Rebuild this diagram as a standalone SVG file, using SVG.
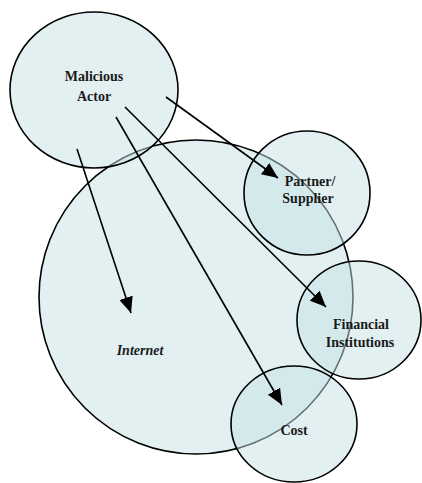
<svg xmlns="http://www.w3.org/2000/svg" width="422" height="483" viewBox="0 0 422 483">
<style>
.n{fill:rgb(197,225,229);fill-opacity:0.5;stroke:#000;stroke-width:1.6}
.t{font-family:"Liberation Serif",serif;font-weight:bold;font-size:14px;fill:#1a1a1a;text-anchor:middle}
.c{stroke:#000;stroke-width:1.6;fill:none;marker-end:url(#ah)}
</style>
<defs>
<marker id="ah" markerWidth="16" markerHeight="14" refX="16" refY="7" orient="auto" markerUnits="userSpaceOnUse">
<path d="M0,0 L16,7 L0,14 Z" fill="#000"/>
</marker>
</defs>
<g id="internet"><circle class="n" cx="196" cy="297" r="157"/><text class="t" x="140" y="355" font-style="italic">Internet</text></g>
<g id="malicious-actor"><ellipse class="n" cx="94" cy="90" rx="84" ry="78"/><text class="t" x="94" y="81">Malicious</text><text class="t" x="94" y="101">Actor</text></g>
<g id="partner"><ellipse class="n" cx="307" cy="193" rx="63" ry="62"/><text class="t" x="310" y="186">Partner/</text><text class="t" x="308" y="203">Supplier</text></g>
<g id="financial"><ellipse class="n" cx="359" cy="320" rx="62" ry="59"/><text class="t" x="361" y="329">Financial</text><text class="t" x="360" y="347">Institutions</text></g>
<g id="cost"><ellipse class="n" cx="294" cy="424" rx="63" ry="58"/><text class="t" x="294" y="435">Cost</text></g>
<g id="connectors">
<line class="c" x1="77" y1="149" x2="131" y2="313"/>
<line class="c" x1="116" y1="117" x2="282" y2="405"/>
<line class="c" x1="125" y1="107" x2="326" y2="307"/>
<line class="c" x1="166" y1="97" x2="278" y2="178"/>
</g>
</svg>
